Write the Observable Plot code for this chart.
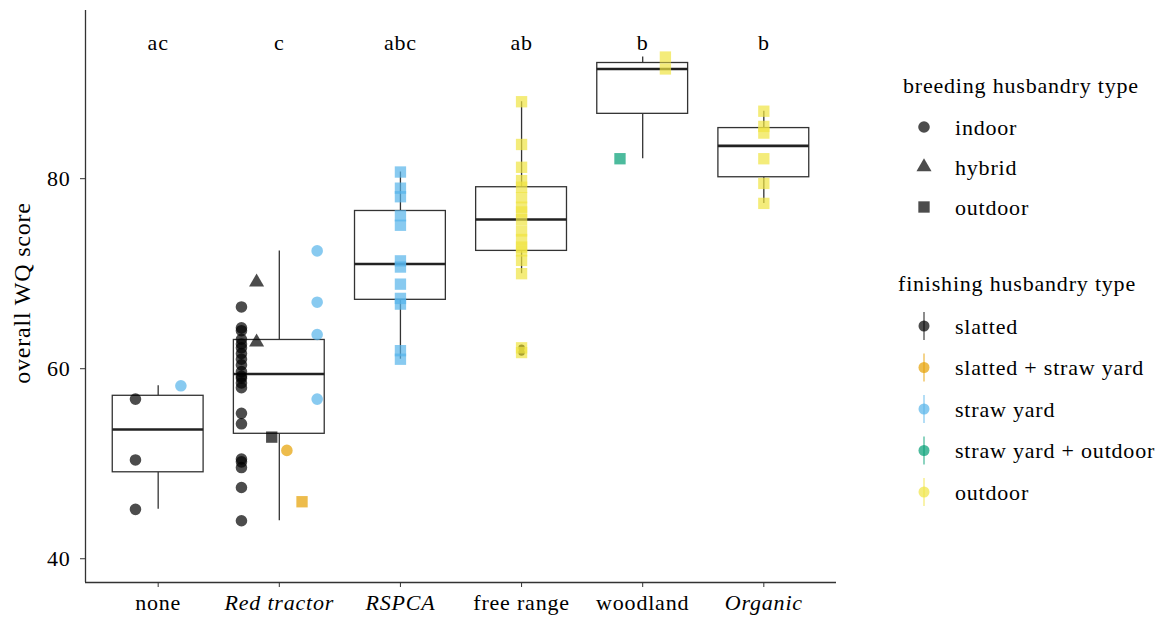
<!DOCTYPE html>
<html><head><meta charset="utf-8">
<script src="https://cdn.jsdelivr.net/npm/d3@7"></script>
<script src="https://cdn.jsdelivr.net/npm/@observablehq/plot@0.6"></script>
<style>
body{margin:0;background:#fff;}
#wrap{position:relative;width:1165px;height:620px;font-family:"Liberation Serif","DejaVu Serif",serif;}
#ylab{position:absolute;left:22px;top:293px;transform:translate(-50%,-50%) rotate(-90deg);font-size:24px;letter-spacing:0.8px;white-space:nowrap;color:#000;}
#legend{position:absolute;left:0;top:0;}
svg text{letter-spacing:0.8px;}
</style></head><body><div id="wrap"><div id="ylab">overall WQ score</div></div>
<script>
// ---------- data ----------
const categories = ["none", "Red tractor", "RSPCA", "free range", "woodland", "Organic"];
const italicCategories = ["Red tractor", "RSPCA", "Organic"];
const significanceLetters = ["ac", "c", "abc", "ab", "b", "b"];
const yTicks = [40, 60, 80];
const breedingTypes = ["indoor", "hybrid", "outdoor"];
const breedingSymbols = ["circle", "triangle", "square"];
const finishingTypes = ["slatted", "slatted + straw yard", "straw yard", "straw yard + outdoor", "outdoor"];
const finishingColors = ["#000000", "#E69F00", "#56B4E9", "#009E73", "#F0E442"];

// [breeding, finishing, overall WQ score]
const noneFarms = [
  ["indoor", "slatted", 45.2], ["indoor", "slatted", 50.4], ["indoor", "slatted", 56.8],
  ["indoor", "straw yard", 58.2]
];
const redTractorFarms = [
  ["indoor", "slatted", 44.0], ["indoor", "slatted", 47.5], ["indoor", "slatted", 49.6],
  ["indoor", "slatted", 50.2], ["indoor", "slatted", 50.5], ["indoor", "slatted", 54.2],
  ["indoor", "slatted", 55.3], ["indoor", "slatted", 58.0], ["indoor", "slatted", 58.5],
  ["indoor", "slatted", 59.0], ["indoor", "slatted", 59.2], ["indoor", "slatted", 59.7],
  ["indoor", "slatted", 60.4], ["indoor", "slatted", 61.0], ["indoor", "slatted", 61.6],
  ["indoor", "slatted", 62.2], ["indoor", "slatted", 62.6], ["indoor", "slatted", 63.1],
  ["indoor", "slatted", 64.0], ["indoor", "slatted", 64.3], ["indoor", "slatted", 66.5],
  ["hybrid", "slatted", 62.8], ["hybrid", "slatted", 69.1],
  ["outdoor", "slatted", 52.8],
  ["indoor", "slatted + straw yard", 51.4],
  ["outdoor", "slatted + straw yard", 46.0],
  ["indoor", "straw yard", 56.8], ["indoor", "straw yard", 63.6],
  ["indoor", "straw yard", 67.0], ["indoor", "straw yard", 72.4]
];
const rspcaFarms = [
  ["outdoor", "straw yard", 61.0], ["outdoor", "straw yard", 61.9], ["outdoor", "straw yard", 66.8],
  ["outdoor", "straw yard", 67.4], ["outdoor", "straw yard", 68.9], ["outdoor", "straw yard", 70.7],
  ["outdoor", "straw yard", 71.35], ["outdoor", "straw yard", 75.1], ["outdoor", "straw yard", 76.1],
  ["outdoor", "straw yard", 78.1], ["outdoor", "straw yard", 79.0], ["outdoor", "straw yard", 80.7]
];
const freeRangeFarms = [
  ["outdoor", "outdoor", 61.7], ["outdoor", "outdoor", 62.2], ["outdoor", "outdoor", 70.0],
  ["outdoor", "outdoor", 71.4], ["outdoor", "outdoor", 72.4], ["outdoor", "outdoor", 72.8],
  ["outdoor", "outdoor", 73.6], ["outdoor", "outdoor", 74.5], ["outdoor", "outdoor", 75.7],
  ["outdoor", "outdoor", 76.5], ["outdoor", "outdoor", 77.0], ["outdoor", "outdoor", 78.0],
  ["outdoor", "outdoor", 79.1], ["outdoor", "outdoor", 79.8], ["outdoor", "outdoor", 81.2],
  ["outdoor", "outdoor", 83.6], ["outdoor", "outdoor", 88.1]
];
const woodlandFarms = [
  ["outdoor", "straw yard + outdoor", 82.1],
  ["outdoor", "outdoor", 91.55], ["outdoor", "outdoor", 92.8]
];
const organicFarms = [
  ["outdoor", "outdoor", 77.4], ["outdoor", "outdoor", 79.5], ["outdoor", "outdoor", 82.1],
  ["outdoor", "outdoor", 84.8], ["outdoor", "outdoor", 85.5], ["outdoor", "outdoor", 87.1]
];
const farmsByCategory = [noneFarms, redTractorFarms, rspcaFarms, freeRangeFarms, woodlandFarms, organicFarms];

// ---------- layout constants ----------
const boxWidth = 0.75;          // in category units (ggplot default dodge/box width)
const letterY = 94.3;
const xDomain = [0.4, 6.6];
const yDomain = [37.5, 97.7];

// ---------- derived tables ----------
const points = [];
const stats = [];
const outliers = [];
farmsByCategory.forEach((farms, i) => {
  const pos = i + 1;
  const groups = Array.from(new Set(farms.map(f => f[0] + "|" + f[1])))
    .sort((a, b) => {
      const [ba, fa] = a.split("|"), [bb, fb] = b.split("|");
      return (finishingTypes.indexOf(fa) - finishingTypes.indexOf(fb)) || (breedingTypes.indexOf(ba) - breedingTypes.indexOf(bb));
    });
  const k = groups.length;
  farms.forEach(([breeding, finishing, score]) => {
    const j = groups.indexOf(breeding + "|" + finishing);
    points.push({category: categories[i], pos, breeding, finishing, score,
      px: pos - boxWidth / 2 + (j + 0.5) * boxWidth / k});
  });
  const vals = farms.map(f => f[2]).sort(d3.ascending);
  const q1 = d3.quantile(vals, 0.25), med = d3.quantile(vals, 0.5), q3 = d3.quantile(vals, 0.75);
  const iqr = q3 - q1;
  const lo = d3.min(vals.filter(v => v >= q1 - 1.5 * iqr));
  const hi = d3.max(vals.filter(v => v <= q3 + 1.5 * iqr));
  vals.filter(v => v < q1 - 1.5 * iqr || v > q3 + 1.5 * iqr).forEach(v => outliers.push({pos, score: v}));
  stats.push({pos, q1, med, q3, lo, hi, x1: pos - boxWidth / 2, x2: pos + boxWidth / 2});
});
const letterRows = categories.map((c, i) => ({pos: i + 1, letter: significanceLetters[i]}));

const colorOf = f => finishingColors[finishingTypes.indexOf(f)];
const shapeSize = {circle: 5.8, triangle: 5.6, square: 6.4};

const axisColor = "#333";
const chart = Plot.plot({
  width: 1165, height: 620,
  marginLeft: 85, marginRight: 329, marginTop: 10, marginBottom: 38,
  x: {type: "linear", domain: xDomain},
  y: {domain: yDomain},
  style: {fontFamily: "'Liberation Serif', serif", fontSize: "22px", color: "#000", background: "transparent"},
  marks: [
    Plot.ruleX([xDomain[0]], {stroke: axisColor, strokeWidth: 1.3}),
    Plot.ruleY([yDomain[0]], {stroke: axisColor, strokeWidth: 1.3}),
    Plot.axisY({ticks: yTicks, tickSize: 5, tickPadding: 10, label: null, stroke: axisColor}),
    Plot.axisX({ticks: d3.range(1, categories.length + 1), tickFormat: d => categories[d - 1], tickSize: 5, tickPadding: 7, label: null, stroke: axisColor}),
    Plot.ruleX(stats, {x: "pos", y1: "lo", y2: "q1", stroke: axisColor, strokeWidth: 1.3}),
    Plot.ruleX(stats, {x: "pos", y1: "q3", y2: "hi", stroke: axisColor, strokeWidth: 1.3}),
    Plot.rect(stats, {x1: "x1", x2: "x2", y1: "q1", y2: "q3", fill: "white", stroke: axisColor, strokeWidth: 1.3}),
    Plot.ruleY(stats, {y: "med", x1: "x1", x2: "x2", stroke: "#222", strokeWidth: 2.6}),
    Plot.dot(outliers, {x: "pos", y: "score", fill: "#000", r: 3.2}),
    ...breedingTypes.map((b, bi) => Plot.dot(points.filter(p => p.breeding === b), {
      x: "px", y: "score", symbol: () => breedingSymbols[bi],
      r: shapeSize[breedingSymbols[bi]],
      fill: p => colorOf(p.finishing), fillOpacity: 0.7, stroke: "none"
    })),
    Plot.text(letterRows, {x: "pos", y: () => letterY, text: "letter", fontSize: 22, fill: "#000"})
  ]
});
document.getElementById("wrap").appendChild(chart);

// italic category labels
d3.select(chart).selectAll("g[aria-label='x-axis tick label'] text")
  .each(function() { if (italicCategories.includes(this.textContent)) this.setAttribute("font-style", "italic"); });

// ---------- legend ----------
const lg = d3.select("#wrap").append("svg").attr("id", "legend")
  .attr("width", 1165).attr("height", 620)
  .style("font-family", "'Liberation Serif', serif").style("font-size", "22px");
const legendKeyX = 924, legendTextX = 955;
lg.append("text").attr("x", 903).attr("y", 85).attr("dy", "0.35em").text("breeding husbandry type");
breedingTypes.forEach((b, i) => {
  const y = 127 + i * 40;
  const r = shapeSize[breedingSymbols[i]];
  const sym = {circle: d3.symbolCircle, triangle: d3.symbolTriangle, square: d3.symbolSquare}[breedingSymbols[i]];
  lg.append("path").attr("d", d3.symbol(sym, Math.PI * r * r)()).attr("transform", `translate(${legendKeyX},${y})`)
    .attr("fill", "#000").attr("fill-opacity", 0.7);
  lg.append("text").attr("x", legendTextX).attr("y", y).attr("dy", "0.35em").text(b);
});
lg.append("text").attr("x", 898).attr("y", 283).attr("dy", "0.35em").text("finishing husbandry type");
finishingTypes.forEach((f, i) => {
  const y = 326 + i * 41.5;
  lg.append("line").attr("x1", legendKeyX).attr("x2", legendKeyX).attr("y1", y - 14).attr("y2", y + 14)
    .attr("stroke", finishingColors[i]).attr("stroke-opacity", 0.6).attr("stroke-width", 1.5);
  lg.append("circle").attr("cx", legendKeyX).attr("cy", y).attr("r", 5.5)
    .attr("fill", finishingColors[i]).attr("fill-opacity", 0.7);
  lg.append("text").attr("x", legendTextX).attr("y", y).attr("dy", "0.35em").text(f);
});
</script></body></html>
